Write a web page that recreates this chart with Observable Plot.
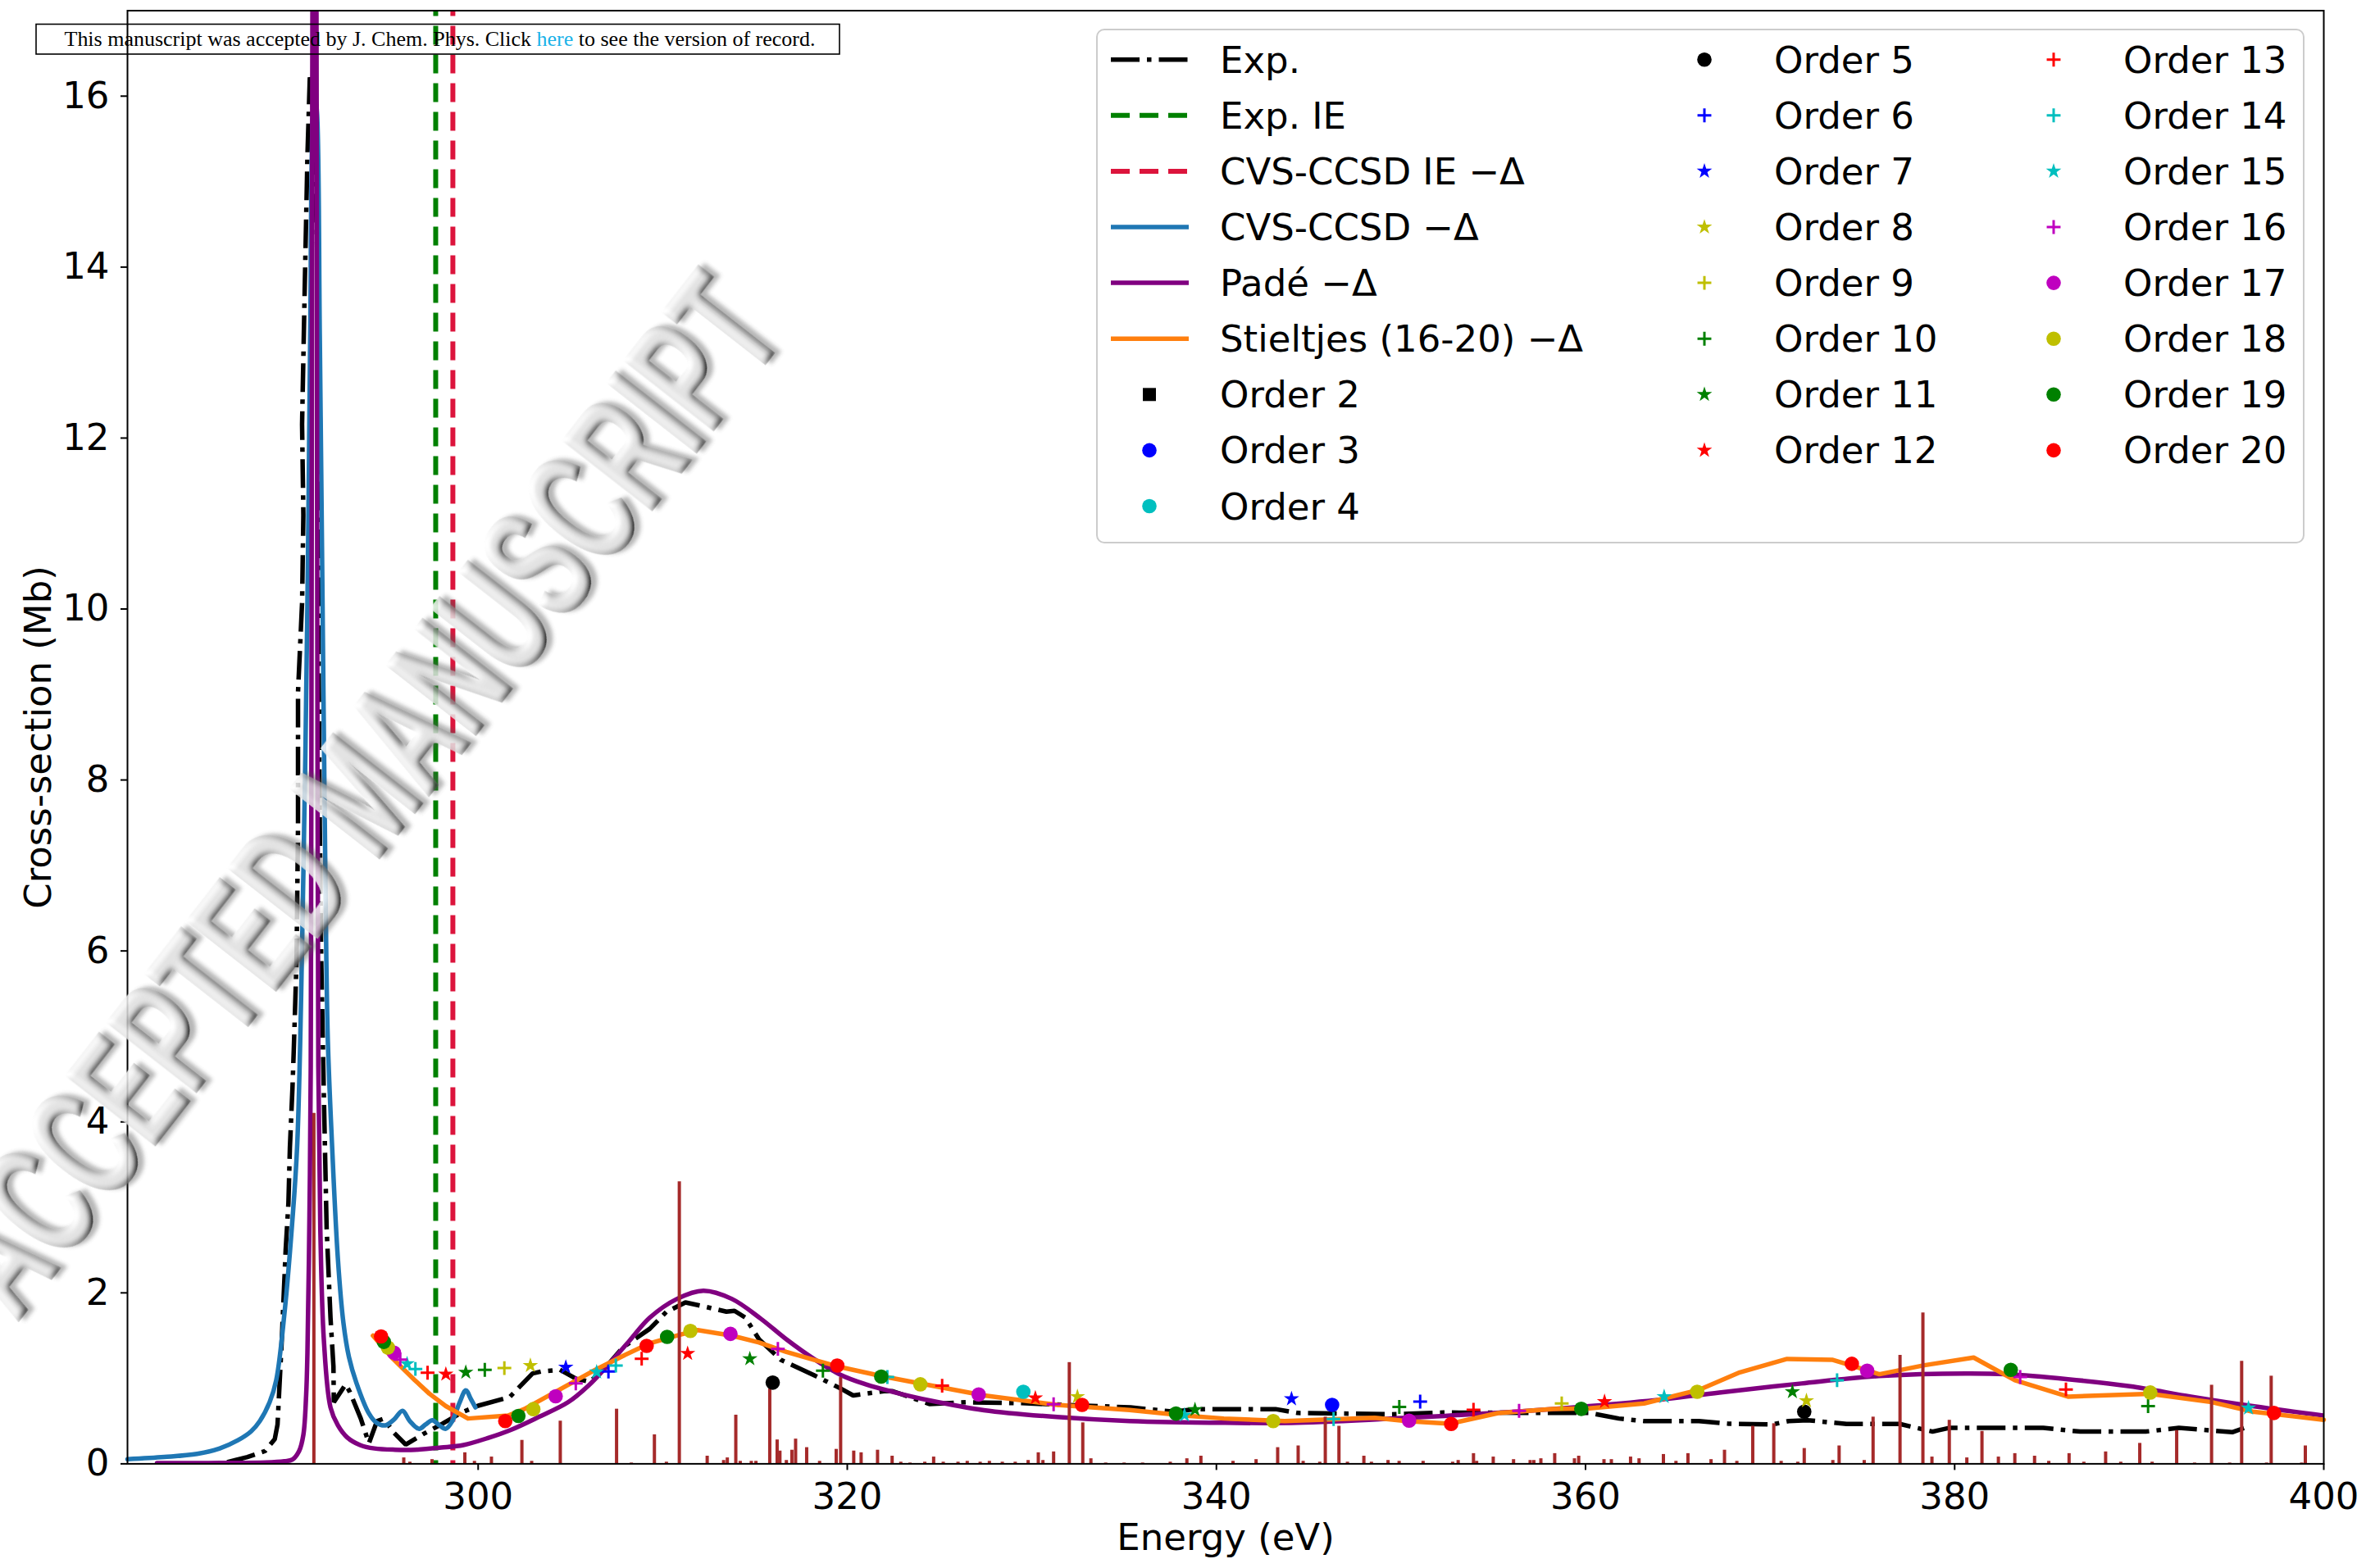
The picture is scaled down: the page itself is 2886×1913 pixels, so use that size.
<!DOCTYPE html>
<html>
<head>
<meta charset="utf-8">
<script src="https://cdn.jsdelivr.net/npm/d3@7"></script>
<script src="https://cdn.jsdelivr.net/npm/@observablehq/plot@0.6"></script>
<style>
  html, body { margin: 0; padding: 0; background: #fff; }
  svg { display: block; }
</style>
</head>
<body>
<div id="chart"></div>
<script>
// ---- axis ticks ----
const xTicks = [300, 320, 340, 360, 380, 400];
const yTicks = [0, 2, 4, 6, 8, 10, 12, 14, 16];

// ---- ionisation energies (eV) ----
const expIE = 297.7;
const cvsIE = 298.63;

// ---- experimental spectrum [energy eV, cross-section Mb] ----
const expCurve = [
  [286.4,0.02],[287.5,0.08],[288.46,0.15],[288.98,0.29],[289.13,0.46],[289.35,1.4],[289.57,2.5],
  [289.72,3.05],[289.8,3.7],[289.94,4.4],[290.01,4.84],[290.16,5.89],[290.24,7.46],[290.24,9.03],
  [290.46,10.07],[290.53,11.1],[290.46,12.16],[290.6,13.72],[290.75,15.3],[290.88,16.22],[291.0,16.1],
  [291.15,15.3],[291.27,14.25],[291.34,12.16],[291.34,10.07],[291.42,7.46],[291.5,5.89],[291.64,4.32],
  [291.79,2.76],[292.0,1.71],[292.16,1.14],[292.18,0.72],[292.82,0.93],[293.05,0.84],[293.64,0.53],
  [294.08,0.24],[294.52,0.5],[294.9,0.53],[295.41,0.37],[296.08,0.225],[297.04,0.35],[298.07,0.47],
  [299.1,0.6],[300.0,0.68],[301.7,0.78],[302.95,1.057],[303.4,1.08],[304.43,1.1],[305.31,0.995],
  [306.05,0.96],[306.79,1.1],[307.83,1.36],[309.3,1.58],[310.19,1.776],[311.23,1.888],[312.26,1.84],
  [313.45,1.78],[313.89,1.79],[314.48,1.71],[315.22,1.456],[316.4,1.217],[318.17,1.04],[319.65,0.88],
  [320.32,0.8],[322.0,0.85],[322.46,0.85],[324.45,0.7],[326.43,0.72],[329.4,0.71],[335.34,0.66],
  [337.7,0.61],[338.9,0.64],[343.2,0.64],[344.4,0.595],[349.5,0.58],[352.3,0.6],[360.2,0.595],
  [361.8,0.53],[363.17,0.5],[366.14,0.5],[367.72,0.47],[370.13,0.46],[371.0,0.5],[372.03,0.51],
  [374.14,0.466],[377.03,0.466],[378.8,0.377],[379.7,0.42],[384.8,0.42],[386.8,0.377],[390.36,0.377],
  [392.15,0.42],[395.04,0.37],[395.7,0.42]
];

// ---- CVS-CCSD broadened spectrum ----
const cvsCurve = [
  [281,0.055],[283,0.08],[284.77,0.116],[286,0.18],[286.98,0.275],[287.7,0.38],[288.17,0.5],
  [288.7,0.72],[289.06,0.98],[289.5,1.75],[289.9,2.75],[290.2,3.75],[290.53,6.9],[290.75,10.07],
  [290.9,13.2],[291.05,15.8],[291.16,16.0],[291.27,15.8],[291.42,13.2],[291.57,10.07],[291.72,6.93],
  [291.85,5.0],[292.08,3.75],[292.4,2.4],[292.7,1.65],[293.0,1.25],[293.4,0.95],[294.08,0.59],
  [294.5,0.48],[294.97,0.45],[295.45,0.52],[295.9,0.62],[296.3,0.5],[296.8,0.41],[297.15,0.46],
  [297.52,0.51],[297.9,0.45],[298.25,0.41],[298.6,0.5],[299.0,0.72],[299.33,0.86],[299.6,0.76],
  [299.85,0.66]
];

// ---- Padé spectrum ----
const padeCurve = [
  [282.6,0.008],[286,0.01],[288.5,0.015],[289.5,0.03],[289.94,0.05],[290.3,0.15],[290.53,0.34],
  [290.68,0.8],[290.75,1.3],[290.86,2.9],[290.93,4.65],[290.97,9],[291.0,14],[291.02,17],[291.06,20],
  [291.13,22],[291.2,20],[291.24,17],[291.26,14],[291.29,9],[291.34,4.65],[291.45,2.73],[291.64,1.45],
  [292.0,0.66],[292.4,0.45],[292.9,0.31],[293.6,0.22],[294.38,0.18],[295.5,0.165],[296.6,0.165],
  [298,0.19],[299.2,0.22],[300.5,0.3],[301.8,0.4],[303.3,0.55],[304.87,0.72],[306,0.92],[307.09,1.168],
  [308.2,1.44],[309.3,1.71],[310.78,1.93],[312.2,2.025],[313.74,1.93],[315.3,1.7],[316.7,1.456],
  [318.17,1.23],[319.65,1.04],[321,0.93],[322.5,0.84],[324.5,0.74],[327.4,0.628],[331.37,0.547],
  [335.3,0.5],[340.47,0.48],[344.4,0.48],[350.3,0.538],[356.24,0.61],[360.2,0.675],[364.2,0.755],
  [367.25,0.834],[371.7,0.94],[376.14,1.03],[380.6,1.057],[382.8,1.048],[386.14,0.99],[389.5,0.907],
  [392.8,0.786],[396.15,0.675],[400,0.565]
];

// ---- Stieltjes (orders 16-20) spectrum ----
const stieltjesCurve = [
  [294.3,1.5],[295.38,1.23],[296.56,0.98],[297.36,0.82],[298.25,0.675],[299.45,0.53],[301.62,0.565],
  [302.5,0.64],[304.13,0.834],[306.35,1.1],[307.83,1.26],[309.3,1.41],[310.78,1.5],[311.9,1.565],
  [313.74,1.5],[315.22,1.42],[316.7,1.31],[318.17,1.217],[319.65,1.13],[322.0,1.02],[323.46,0.96],
  [327.42,0.8],[331.37,0.69],[335.3,0.63],[338.4,0.562],[340.4,0.53],[343.7,0.5],[348.57,0.538],
  [350.3,0.5],[352.68,0.47],[355.26,0.594],[358.22,0.642],[360.2,0.648],[363.17,0.706],[366.14,0.865],
  [368.36,1.07],[370.92,1.227],[373.36,1.217],[374.36,1.153],[375.92,1.048],[378.36,1.153],
  [381.03,1.243],[383.26,0.978],[386.14,0.786],[390.59,0.818],[393.92,0.722],[396.15,0.61],[400,0.515]
];

// ---- stick spectrum [energy eV, strength] ----
const sticks = [
  [291.1,4.1],[295.97,0.07],[296.3,0.02],[297.5,0.05],[299.28,0.13],[299.8,0.03],[300.72,0.08],
  [302.37,0.275],[302.9,0.03],[304.45,0.5],[307.5,0.64],[308.3,0.01],[309.55,0.34],[310.2,0.02],
  [310.9,3.3],[312.41,0.09],[313.3,0.04],[313.5,0.07],[313.96,0.57],[314.2,0.03],[314.8,0.03],
  [315.05,0.03],[315.8,0.88],[316.2,0.28],[316.35,0.15],[316.7,0.04],[317.0,0.16],[317.2,0.29],
  [317.8,0.19],[318.5,0.03],[319.4,0.17],[319.64,1.01],[320.35,0.15],[320.75,0.13],[321.64,0.16],
  [322.43,0.09],[322.9,0.02],[323.4,0.01],[324.2,0.02],[324.68,0.08],[325.2,0.02],[326.0,0.02],
  [326.5,0.03],[327.2,0.02],[327.7,0.03],[328.4,0.02],[329.1,0.02],[329.8,0.04],[330.35,0.13],
  [330.6,0.04],[331.18,0.14],[332.03,1.185],[332.76,0.48],[333.2,0.06],[334.0,0.01],[335.0,0.01],
  [336.0,0.01],[337.5,0.02],[338.4,0.06],[339.16,0.09],[340.9,0.03],[342.15,0.05],[343.32,0.19],
  [344.43,0.21],[344.7,0.03],[345.6,0.02],[345.9,0.547],[346.64,0.44],[347.1,0.02],[347.99,0.09],
  [348.4,0.02],[349.3,0.04],[349.9,0.03],[351.2,0.03],[352.8,0.02],[353.1,0.04],[353.93,0.12],
  [354.1,0.03],[355.0,0.08],[356.1,0.05],[357.0,0.04],[357.2,0.04],[357.58,0.06],[358.33,0.12],
  [359.4,0.06],[359.63,0.09],[361.0,0.05],[361.4,0.05],[362.44,0.08],[362.9,0.06],[364.22,0.11],
  [364.9,0.03],[365.55,0.12],[366.8,0.05],[367.53,0.16],[368.2,0.03],[369.06,0.44],[370.2,0.47],
  [370.6,0.03],[371.5,0.02],[371.85,0.18],[373.4,0.04],[373.74,0.21],[375.1,0.04],[375.58,0.547],
  [377.04,1.27],[378.28,1.766],[378.77,0.08],[379.71,0.51],[380.66,0.07],[381.48,0.38],[382.37,0.08],
  [383.26,0.12],[384.33,0.09],[385.1,0.03],[386.2,0.12],[387.0,0.02],[388.18,0.14],[389.0,0.02],
  [390.03,0.24],[390.7,0.02],[392.03,0.39],[393.0,0.01],[393.92,0.92],[394.9,0.01],[395.55,1.2],
  [396.9,0.01],[397.15,1.026],[398.8,0.01],[399.0,0.21]
];

// ---- Stieltjes points per order [energy eV, cross-section Mb] ----
const order2 = [];
const order3 = [[346.27,0.69]];
const order4 = [[329.54,0.843]];
const order5 = [[315.96,0.95],[371.85,0.61]];
const order6 = [[307.06,1.08],[351.04,0.728]];
const order7 = [[304.75,1.13],[344.07,0.76]];
const order8 = [[302.83,1.15],[332.47,0.786],[371.97,0.738]];
const order9 = [[301.42,1.12],[358.71,0.706]];
const order10 = [[300.36,1.1],[318.68,1.09],[349.91,0.665],[390.48,0.675]];
const order11 = [[299.33,1.07],[314.72,1.228],[338.84,0.633],[371.21,0.843]];
const order12 = [[298.25,1.048],[311.35,1.29],[330.19,0.77],[361.03,0.728]];
const order13 = [[297.26,1.066],[308.86,1.23],[325.14,0.914],[353.93,0.633],[386.03,0.87]];
const order14 = [[296.6,1.11],[307.46,1.15],[322.17,1.016],[346.35,0.524],[373.63,0.978]];
const order15 = [[296.15,1.17],[306.42,1.074],[338.27,0.57],[364.26,0.786],[395.92,0.652]];
const order16 = [[295.78,1.22],[305.29,0.94],[316.24,1.345],[331.18,0.697],[356.4,0.62],[383.55,1.016]];
const order17 = [[295.44,1.3],[304.2,0.79],[313.67,1.52],[327.12,0.812],[350.44,0.505],[375.26,1.09]];
const order18 = [[295.11,1.36],[302.99,0.64],[311.5,1.555],[323.96,0.93],[343.08,0.5],[366.05,0.843],[390.6,0.834]];
const order19 = [[294.89,1.427],[302.18,0.56],[310.24,1.485],[321.84,1.02],[337.81,0.588],[359.77,0.643],[383.04,1.1]];
const order20 = [[294.74,1.49],[301.47,0.5],[309.13,1.38],[319.46,1.15],[332.72,0.69],[352.72,0.467],[374.43,1.17],[397.3,0.595]];

const orderData = [order2, order3, order4, order5, order6, order7, order8, order9, order10, order11,
  order12, order13, order14, order15, order16, order17, order18, order19, order20];

// ---- labels ----
const seriesLabels = ["Exp.", "Exp. IE", "CVS-CCSD IE \u2212\u0394", "CVS-CCSD \u2212\u0394", "Pad\u00e9 \u2212\u0394", "Stieltjes (16-20) \u2212\u0394"];
const orderNumbers = d3.range(2, 21);

// ---- styles (matplotlib format-string colours) ----
const C = {k: "#000000", b: "#0000ff", c: "#00bfbf", y: "#bfbf00", g: "#008000", r: "#ff0000", m: "#bf00bf"};
const orderStyle = {
  2: ["square", C.k], 3: ["circle", C.b], 4: ["circle", C.c], 5: ["circle", C.k],
  6: ["plus", C.b], 7: ["star", C.b], 8: ["star", C.y], 9: ["plus", C.y],
  10: ["plus", C.g], 11: ["star", C.g], 12: ["star", C.r], 13: ["plus", C.r],
  14: ["plus", C.c], 15: ["star", C.c], 16: ["plus", C.m], 17: ["circle", C.m],
  18: ["circle", C.y], 19: ["circle", C.g], 20: ["circle", C.r]
};
const R = {circle: 8.8, star: 5.9, plus: 5.5, square: 9.0};
const lineW = 5.5;
const dashDot = "35,9,5.5,9";
const dashed = "23,12";

const pts = a => a.map(([x, y]) => ({x, y}));

const orderMarks = orderNumbers.map((n, i) => {
  const [sym, col] = orderStyle[n];
  const data = pts(orderData[i]);
  if (sym === "plus") {
    return Plot.dot(data, {x: "x", y: "y", symbol: "plus", r: R.plus, stroke: col, strokeWidth: 3});
  }
  return Plot.dot(data, {x: "x", y: "y", symbol: sym, r: R[sym], fill: col});
});

const W = 2886, H = 1913;
const chart = Plot.plot({
  width: W, height: H,
  marginLeft: 155, marginRight: 52, marginTop: 12.5, marginBottom: 127.6,
  style: {fontFamily: "'DejaVu Sans', sans-serif", fontSize: "45px", background: "white", color: "black", overflow: "visible"},
  x: {domain: [281, 400]},
  y: {domain: [0, 17]},
  marks: [
    Plot.line(pts(expCurve), {x: "x", y: "y", stroke: "black", strokeWidth: lineW, strokeDasharray: dashDot, strokeLinecap: "butt", strokeLinejoin: "miter"}),
    Plot.ruleX([expIE], {stroke: "green", strokeWidth: 6, strokeDasharray: dashed, strokeDashoffset: 16}),
    Plot.ruleX([cvsIE], {stroke: "crimson", strokeWidth: 6, strokeDasharray: dashed, strokeDashoffset: 16}),
    Plot.line(pts(cvsCurve), {x: "x", y: "y", curve: "catmull-rom", stroke: "#1f77b4", strokeWidth: lineW}),
    Plot.line(pts(padeCurve), {x: "x", y: "y", curve: "catmull-rom", stroke: "purple", strokeWidth: lineW, clip: true}),
    Plot.line(pts(stieltjesCurve), {x: "x", y: "y", stroke: "#ff7f0e", strokeWidth: lineW}),
    Plot.ruleX(sticks, {x: d => d[0], y1: 0, y2: d => d[1], stroke: "brown", strokeWidth: 4}),
    ...orderMarks,
    Plot.frame({stroke: "black", strokeWidth: 2}),
    Plot.axisX({ticks: xTicks, tickSize: 8, tickPadding: 15, tickFormat: d => String(d), label: null, strokeWidth: 2, fontSize: 45}),
    Plot.axisY({ticks: yTicks, tickSize: 8, tickPadding: 14, tickFormat: d => String(d), label: null, strokeWidth: 2, fontSize: 45}),
    Plot.text(["Energy (eV)"], {text: d => d, frameAnchor: "bottom", dy: 105, lineAnchor: "bottom", fontSize: 45}),
    Plot.text(["Cross-section (Mb)"], {text: d => d, frameAnchor: "left", dx: -94, rotate: -90, textAnchor: "middle", lineAnchor: "bottom", fontSize: 45})
  ]
});
document.getElementById("chart").appendChild(chart);

// ---- overlays: watermark, banner, legend ----
const svg = d3.select(chart);
const defs = svg.append("defs");
const f = defs.append("filter").attr("id", "wmBevel")
  .attr("x", "-5%").attr("y", "-15%").attr("width", "110%").attr("height", "130%");
f.append("feGaussianBlur").attr("in", "SourceAlpha").attr("stdDeviation", 4).attr("result", "b");
f.append("feDiffuseLighting").attr("in", "b").attr("surfaceScale", 6).attr("diffuseConstant", 1.1)
  .attr("lighting-color", "#f4f4f4").attr("result", "d")
  .append("feDistantLight").attr("azimuth", 235).attr("elevation", 48);
f.append("feComposite").attr("in", "d").attr("in2", "SourceAlpha").attr("operator", "in").attr("result", "lit");
f.append("feOffset").attr("in", "SourceAlpha").attr("dx", 6).attr("dy", 5).attr("result", "off");
f.append("feGaussianBlur").attr("in", "off").attr("stdDeviation", 2.5).attr("result", "sh");
f.append("feFlood").attr("flood-color", "#555").attr("flood-opacity", 0.5).attr("result", "fl");
f.append("feComposite").attr("in", "fl").attr("in2", "sh").attr("operator", "in").attr("result", "shadow");
const fm = f.append("feMerge");
fm.append("feMergeNode").attr("in", "shadow");
fm.append("feMergeNode").attr("in", "lit");

const wmLen = 1530;
const wm = svg.append("g")
  .attr("transform", "translate(962,408) rotate(-52)")
  .attr("opacity", 0.85);
wm.append("text")
  .attr("x", -wmLen).attr("y", 0)
  .attr("text-anchor", "start")
  .attr("font-family", "'Liberation Sans', Arial, sans-serif")
  .attr("font-weight", "bold")
  .attr("font-size", 200)
  .attr("textLength", wmLen).attr("lengthAdjust", "spacingAndGlyphs")
  .attr("fill", "#c4c4c4")
  .attr("stroke", "#8e8e8e").attr("stroke-width", 2.5)
  .attr("filter", "url(#wmBevel)")
  .text("ACCEPTED MANUSCRIPT");

// banner
const bn = svg.append("g").attr("text-anchor", "start");
bn.append("rect").attr("x", 44).attr("y", 29.5).attr("width", 980).attr("height", 36.5)
  .attr("fill", "none").attr("stroke", "black").attr("stroke-width", 1.6);
const bt = bn.append("text").attr("x", 78.5).attr("y", 56)
  .attr("text-anchor", "start")
  .attr("font-family", "'Liberation Serif', 'Times New Roman', serif").attr("font-size", 25)
  .attr("textLength", 916).attr("lengthAdjust", "spacingAndGlyphs").attr("fill", "black");
bt.append("tspan").text("This manuscript was accepted by J. Chem. Phys. Click ");
bt.append("tspan").attr("fill", "#1ab2e8").text("here");
bt.append("tspan").text(" to see the version of record.");

// legend
const lg = svg.append("g").attr("font-family", "'DejaVu Sans', sans-serif").attr("font-size", 45)
  .attr("text-anchor", "start");
lg.append("rect").attr("x", 1338).attr("y", 36).attr("width", 1472).attr("height", 626).attr("rx", 9)
  .attr("fill", "white").attr("fill-opacity", 0.8).attr("stroke", "#cccccc").attr("stroke-width", 2);
const rowY = i => 72.7 + i * 68.1;
const colMark = [1402, 2079, 2505];
const colText = [1488, 2164, 2590];
const lineStyles = [
  {stroke: "black", dash: dashDot, w: lineW},
  {stroke: "green", dash: dashed, w: 6},
  {stroke: "crimson", dash: dashed, w: 6},
  {stroke: "#1f77b4", dash: null, w: lineW},
  {stroke: "purple", dash: null, w: lineW},
  {stroke: "#ff7f0e", dash: null, w: lineW}
];
seriesLabels.forEach((lab, i) => {
  const s = lineStyles[i];
  const ln = lg.append("line").attr("x1", 1355).attr("x2", 1450).attr("y1", rowY(i)).attr("y2", rowY(i))
    .attr("stroke", s.stroke).attr("stroke-width", s.w).attr("stroke-linecap", "butt");
  if (s.dash) ln.attr("stroke-dasharray", s.dash);
  lg.append("text").attr("x", colText[0]).attr("y", rowY(i) + 16).attr("text-anchor", "start").text(lab);
});
const symType = {circle: d3.symbolCircle, star: d3.symbolStar, plus: d3.symbolPlus, square: d3.symbolSquare};
orderNumbers.forEach((n) => {
  let col, row;
  if (n <= 4) { col = 0; row = 6 + (n - 2); }
  else if (n <= 12) { col = 1; row = n - 5; }
  else { col = 2; row = n - 13; }
  const [sym, color] = orderStyle[n];
  const r = R[sym];
  const p = lg.append("path")
    .attr("transform", `translate(${colMark[col]},${rowY(row)})`)
    .attr("d", d3.symbol(symType[sym], Math.PI * r * r)());
  if (sym === "plus") p.attr("fill", "none").attr("stroke", color).attr("stroke-width", 3);
  else p.attr("fill", color);
  lg.append("text").attr("x", colText[col]).attr("y", rowY(row) + 16).attr("text-anchor", "start").text(`Order ${n}`);
});
</script>
</body>
</html>
